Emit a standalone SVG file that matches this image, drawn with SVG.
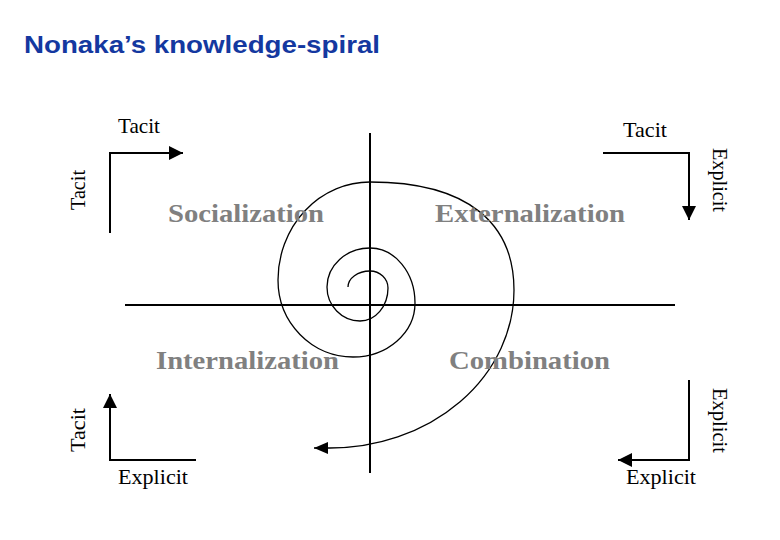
<svg xmlns="http://www.w3.org/2000/svg" width="780" height="540" viewBox="0 0 780 540">
<defs>
<style>
.title{font-family:"Liberation Sans",Arial,sans-serif;font-weight:bold;font-size:24px;fill:#1438a0}
.quad{font-family:"Liberation Serif","Times New Roman",serif;font-weight:bold;font-size:25px;fill:#808080}
.lbl{font-family:"Liberation Serif","Times New Roman",serif;font-size:21px;fill:#000}
.ln{fill:none;stroke:#000;stroke-width:2}
.sp{fill:none;stroke:#000;stroke-width:1.3}
</style>
<marker id="ah" markerUnits="userSpaceOnUse" markerWidth="16" markerHeight="14" refX="14" refY="7" orient="auto">
<path d="M0,0 L14,7 L0,14 Z" fill="#000"/>
</marker>
<marker id="ahs" markerUnits="userSpaceOnUse" markerWidth="16" markerHeight="14" refX="14" refY="6" orient="auto">
<path d="M0,0 L14,6 L0,12 Z" fill="#000"/>
</marker>
</defs>
<rect width="780" height="540" fill="#fff"/>
<text class="title" x="24" y="53" textLength="356" lengthAdjust="spacingAndGlyphs">Nonaka’s knowledge-spiral</text>

<g id="connectors">
<line class="ln" x1="370" y1="133" x2="370" y2="473"/>
<line class="ln" x1="125" y1="305" x2="675" y2="305"/>
<path class="sp" marker-end="url(#ahs)" d="M348,287 A22,16 0 0 1 370,271 A18,17 0 0 1 388,288 A28,33 0 0 1 360,321 A33,34 0 0 1 327,287 A43,39 0 0 1 370,248 A45,55 0 0 1 415,303 A62,54 0 0 1 353,357 A75,77 0 0 1 278,280 A92,98 0 0 1 370,182 C470,182 514,225 514,290 A184,158 0 0 1 330,448 L314,448"/>
<path class="ln" marker-end="url(#ah)" d="M110,233 L110,153 L183,153"/>
<path class="ln" marker-end="url(#ah)" d="M603,153 L689,153 L689,220"/>
<path class="ln" marker-end="url(#ah)" d="M196,460 L110,460 L110,394"/>
<path class="ln" marker-end="url(#ah)" d="M689,380 L689,460 L618,460"/>
</g>

<g id="socialization"><text class="quad" x="168" y="222" textLength="156" lengthAdjust="spacingAndGlyphs">Socialization</text></g>
<g id="externalization"><text class="quad" x="435" y="222" textLength="190" lengthAdjust="spacingAndGlyphs">Externalization</text></g>
<g id="internalization"><text class="quad" x="156" y="369" textLength="183" lengthAdjust="spacingAndGlyphs">Internalization</text></g>
<g id="combination"><text class="quad" x="449" y="369" textLength="161" lengthAdjust="spacingAndGlyphs">Combination</text></g>

<g id="corner-tl">
<text class="lbl" x="118" y="133" textLength="42" lengthAdjust="spacingAndGlyphs">Tacit</text>
<text class="lbl" transform="translate(85,190) rotate(-90)" x="-20" y="0" textLength="40" lengthAdjust="spacingAndGlyphs">Tacit</text>
</g>
<g id="corner-tr">
<text class="lbl" x="623" y="137" textLength="44" lengthAdjust="spacingAndGlyphs">Tacit</text>
<text class="lbl" transform="translate(713,180) rotate(90)" x="-32" y="0" textLength="64" lengthAdjust="spacingAndGlyphs">Explicit</text>
</g>
<g id="corner-bl">
<text class="lbl" transform="translate(85,430) rotate(-90)" x="-22" y="0" textLength="44" lengthAdjust="spacingAndGlyphs">Tacit</text>
<text class="lbl" x="118" y="484" textLength="70" lengthAdjust="spacingAndGlyphs">Explicit</text>
</g>
<g id="corner-br">
<text class="lbl" transform="translate(713,420) rotate(90)" x="-32" y="0" textLength="65" lengthAdjust="spacingAndGlyphs">Explicit</text>
<text class="lbl" x="626" y="484" textLength="70" lengthAdjust="spacingAndGlyphs">Explicit</text>
</g>
</svg>
